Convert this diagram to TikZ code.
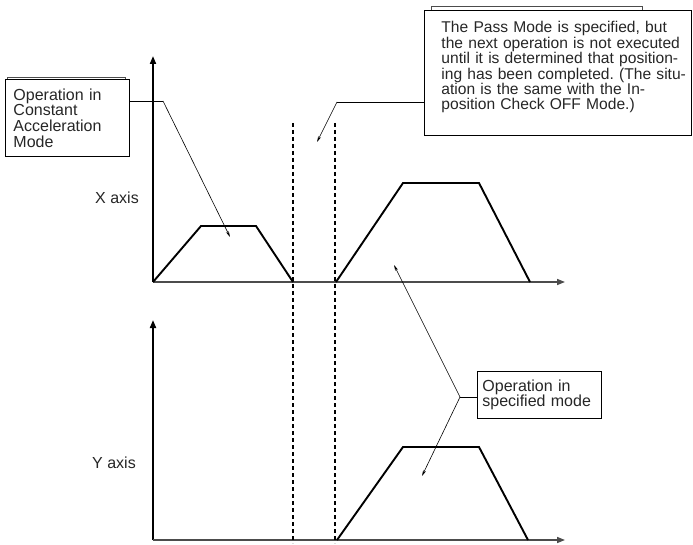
\documentclass[tikz,border=0pt]{standalone}
\usepackage{fontspec}
\setmainfont{Liberation Sans}
\usetikzlibrary{arrows.meta}
\frenchspacing
\begin{document}
\begin{tikzpicture}[x=1pt,y=-1pt,
    every node/.style={font=\fontsize{16}{15.6}\selectfont, text=black!85},
    axisline/.style={line width=1.8pt, -{Triangle[length=8pt,width=6pt]}},
    timeline/.style={line width=1.5pt, black!70, -{Triangle[length=8pt,width=6pt]}},
    profile/.style={line width=1.9pt, line join=miter},
    divider/.style={line width=1.1pt, dash pattern=on 4pt off 3pt},
    notebox/.style={draw, line width=0.9pt, anchor=north west, align=left},
    tabline/.style={line width=0.6pt, black!70},
    callline/.style={line width=0.6pt},
    callarrow/.style={line width=0.6pt, -{Stealth[length=6pt,width=3pt]}}]
    \useasboundingbox (0,0) rectangle (693,545);

    % X axis
    \draw[axisline] (153,282) -- (153,56);
    \draw[timeline] (153,282) -- (565,282);
    \node (xlabel) at (117,198) {X axis};
    \draw[profile] (153,282) -- (201,226) -- (256,226) -- (293,282);
    \draw[profile] (336,282) -- (403,183) -- (479,183) -- (530,282);

    % Y axis
    \draw[axisline] (153,540) -- (153,320);
    \draw[timeline] (153,540) -- (565,540);
    \node (ylabel) at (114,463) {Y axis};
    \draw[profile] (337,540) -- (403,447) -- (479,447) -- (528,540);

    % dividers
    \draw[divider] (293,123) -- (293,543);
    \draw[divider] (335,123) -- (335,543);

    % constant acceleration note
    \node[notebox, inner xsep=8pt, text width=108pt, minimum height=77pt] (cam) at (5,79)
        {Operation in\\Constant\\Acceleration\\Mode};
    \draw[tabline] (7,79) -- (7,77) -- (125,77) -- (125,79);
    \coordinate (camk) at (163,101);
    \coordinate (camtip) at (230,237);
    \draw[callline] (cam.east |- camk) -- (camk);
    \draw[callarrow] (camk) -- (camtip);

    % pass mode note
    \node[notebox, font=\fontsize{15.6}{15.4}\selectfont, inner xsep=4pt, text width=259pt,
        execute at begin node={\leftskip=13pt}, minimum height=125pt] (pass) at (424,10)
        {The Pass Mode is specified, but\\the next operation is not executed\\until it is determined that position-\\ing has been completed. (The situ-\\ation is the same with the In-\\position Check OFF Mode.)\par\vspace{11pt}};
    \draw[tabline] (431,10) -- (431,6) -- (642,6) -- (642,10);
    \coordinate (passk) at (337,102);
    \coordinate (passtip) at (317,142);
    \draw[callline] (pass.west |- passk) -- (passk);
    \draw[callarrow] (passk) -- (passtip);

    % specified mode note
    \node[notebox, inner xsep=5pt, text width=114pt, minimum height=47pt] (spec) at (477,371)
        {Operation in\\specified mode};
    \coordinate (specj) at (460,397);
    \coordinate (xtip) at (394,265);
    \coordinate (ytip) at (422,476);
    \draw[callline] (spec.west |- specj) -- (specj);
    \draw[callarrow] (specj) -- (xtip);
    \draw[callarrow] (specj) -- (ytip);
\end{tikzpicture}
\end{document}
